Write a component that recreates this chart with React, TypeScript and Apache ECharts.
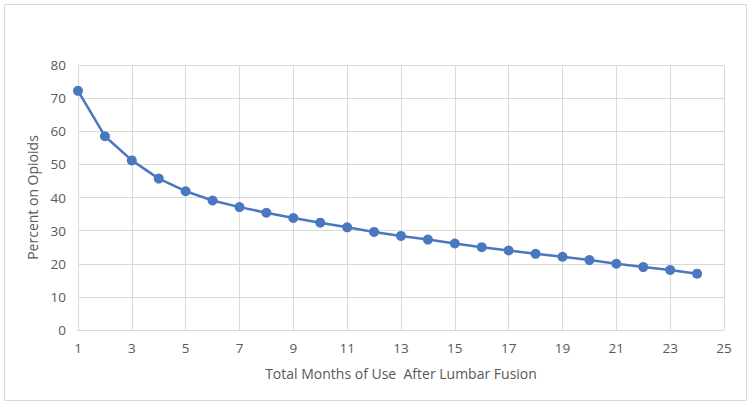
import React, { useEffect, useRef } from "react";
import * as echarts from "echarts";

const months = [1, 2, 3, 4, 5, 6, 7, 8, 9, 10, 11, 12, 13, 14, 15, 16, 17, 18, 19, 20, 21, 22, 23, 24];
const percentOnOpioids = [72.2, 58.5, 51.2, 45.7, 41.9, 39.1, 37.1, 35.4, 33.8, 32.4, 31.0, 29.6, 28.4, 27.3, 26.1, 25.0, 24.0, 23.0, 22.1, 21.1, 20.0, 19.0, 18.1, 17.0];
const xAxisName = "Total Months of Use  After Lumbar Fusion";
const yAxisName = "Percent on Opioids";

export default function App() {
  const ref = useRef<HTMLDivElement>(null);
  useEffect(() => {
    if (!ref.current) return;
    const chart = echarts.init(ref.current, null, { renderer: "svg" });
    const font = "'Open Sans', 'Liberation Sans', sans-serif";
    chart.setOption({
      animation: false,
      backgroundColor: "#ffffff",
      textStyle: { fontFamily: font },
      graphic: [
        {
          type: "rect",
          shape: { x: 4.5, y: 4.5, width: 742, height: 396 },
          style: { fill: "none", stroke: "#d9d9d9", lineWidth: 1 },
          silent: true,
        },
      ],
      grid: { left: 78, right: 28, top: 65, bottom: 77 },
      xAxis: {
        type: "value",
        min: 1,
        max: 25,
        interval: 2,
        name: xAxisName,
        nameLocation: "middle",
        nameGap: 36,
        nameTextStyle: { color: "#595959", fontSize: 14, fontFamily: font },
        axisLine: { show: true, lineStyle: { color: "#d9d9d9", width: 1 } },
        axisTick: { show: false },
        axisLabel: { color: "#595959", fontSize: 13.5, margin: 11, fontFamily: font },
        splitLine: { show: true, lineStyle: { color: "#d9d9d9", width: 1 } },
      },
      yAxis: {
        type: "value",
        min: 0,
        max: 80,
        interval: 10,
        name: yAxisName,
        nameLocation: "middle",
        nameGap: 38,
        nameTextStyle: { color: "#595959", fontSize: 14, fontFamily: font },
        axisLine: { show: false },
        axisTick: { show: false },
        axisLabel: { color: "#595959", fontSize: 13.5, margin: 12, fontFamily: font },
        splitLine: { show: true, lineStyle: { color: "#d9d9d9", width: 1 } },
      },
      series: [
        {
          type: "line",
          data: months.map((m, i) => [m, percentOnOpioids[i]]),
          smooth: false,
          symbol: "circle",
          symbolSize: 10,
          lineStyle: { color: "#4a78c0", width: 2.5 },
          itemStyle: { color: "#4a78c0" },
        },
      ],
    });
    return () => chart.dispose();
  }, []);
  return <div ref={ref} style={{ width: 752, height: 407, position: "absolute", left: 0, top: 0 }} />;
}
